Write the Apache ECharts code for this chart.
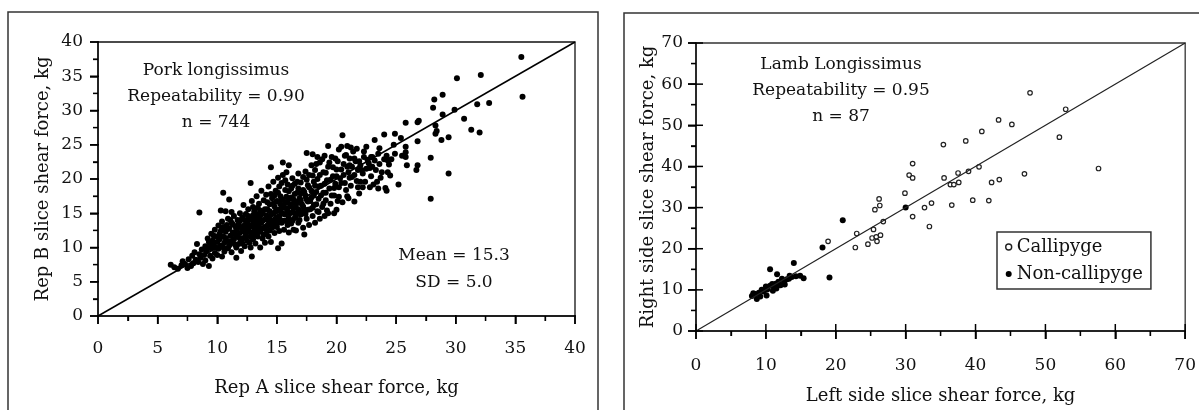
<!DOCTYPE html>
<html>
<head>
<meta charset="utf-8">
<script src="https://cdn.jsdelivr.net/npm/echarts@6/dist/echarts.min.js"></script>
<style>
  html, body { margin: 0; padding: 0; background: #fff; }
  #main { width: 1199px; height: 410px; }
</style>
</head>
<body>
<div id="main"></div>
<script>
  // Pork: Rep A vs Rep B slice shear force (kg)
  let porkPoints = [
    [6.1, 7.5], [6.4, 7.1], [6.7, 6.9], [7.0, 7.4], [7.1, 8.0], [7.3, 7.6], [7.5, 7.0], [7.6, 8.3],
    [7.8, 7.3], [7.9, 8.8], [8.0, 7.7], [8.1, 9.3], [8.2, 8.2], [8.3, 10.5], [8.4, 7.9], [8.5, 15.1],
    [8.5, 9.0], [8.6, 8.5], [8.7, 9.7], [8.8, 7.6],
    [8.9, 8.9], [9.0, 10.2], [9.0, 8.1], [9.1, 9.5], [9.2, 11.3], [9.3, 7.3], [9.3, 10.8], [9.4, 8.8],
    [9.5, 9.9], [9.5, 12.0], [9.6, 8.4], [9.6, 11.0],
    [9.7, 10.4], [9.8, 9.2], [9.8, 12.6], [9.9, 11.6], [10.0, 8.9], [10.0, 10.8], [10.1, 13.2], [10.1, 9.8],
    [10.2, 12.0], [10.2, 11.2], [10.3, 15.4], [10.3, 10.3], [10.4, 8.7], [10.4, 12.7], [10.4, 13.8],
    [10.5, 18.0], [10.5, 11.6], [10.6, 9.4], [10.6, 10.7], [10.7, 15.3], [10.7, 12.3], [10.8, 13.3], [10.8, 11.0],
    [10.9, 9.9], [10.9, 14.2], [11.0, 17.0], [11.0, 12.8], [11.0, 10.3], [11.1, 11.7], [11.2, 15.2], [11.2, 13.6],
    [11.2, 9.3],
    [11.3, 12.2], [11.3, 10.7], [11.4, 14.6], [11.4, 11.2], [11.5, 13.1], [11.6, 8.5], [11.6, 12.6], [11.6, 10.0],
    [11.7, 14.0], [11.7, 11.6], [11.8, 13.5], [11.8, 10.5], [11.9, 12.1], [11.9, 15.0], [12.0, 11.0], [12.0, 13.0],
    [12.0, 9.5],
    [12.1, 14.4], [12.1, 12.4], [12.2, 11.4], [12.2, 16.2], [12.3, 13.3], [12.3, 10.2], [12.4, 12.0], [12.4, 14.9],
    [12.5, 11.0], [12.5, 13.7], [12.6, 12.7], [12.6, 15.6], [12.7, 10.7], [12.7, 14.2], [12.8, 19.4], [12.8, 12.2],
    [12.8, 11.6],
    [12.9, 8.7], [12.9, 13.1], [12.9, 16.8], [13.0, 14.7], [13.0, 11.2], [13.1, 12.5], [13.1, 15.3], [13.2, 13.6],
    [13.2, 10.6], [13.3, 14.2], [13.3, 12.0], [13.3, 17.5], [13.4, 11.6], [13.4, 15.8], [13.5, 13.0], [13.5, 16.4],
    [13.6, 14.6], [13.6, 12.3], [13.6, 10.0],
    [13.7, 18.3], [13.7, 13.6], [13.8, 11.3], [13.8, 15.2], [13.9, 12.8], [13.9, 16.9], [14.0, 14.1], [14.0, 10.7],
    [14.1, 12.0], [14.1, 17.7], [14.2, 15.6], [14.2, 13.2], [14.3, 18.9], [14.3, 11.6], [14.4, 14.5], [14.4, 16.3],
    [14.4, 12.5],
    [14.5, 21.7], [14.5, 10.8], [14.6, 13.8], [14.6, 17.2], [14.7, 15.0], [14.7, 19.6], [14.8, 12.1], [14.8, 16.0],
    [14.9, 14.2], [14.9, 18.3], [15.0, 13.0], [15.0, 15.5], [15.1, 9.9], [15.1, 16.7], [15.1, 20.2], [15.2, 14.6],
    [15.2, 12.4], [15.2, 18.9],
    [15.3, 17.5], [15.4, 10.6], [15.4, 13.6], [15.5, 22.4], [15.5, 20.6], [15.5, 15.8], [15.6, 14.9], [15.6, 12.6],
    [15.7, 16.6], [15.7, 18.4], [15.8, 13.9], [15.8, 21.0], [15.9, 15.3], [15.9, 19.2], [16.0, 14.3], [16.0, 17.1],
    [16.0, 12.2], [16.0, 22.0],
    [16.1, 16.0], [16.2, 13.5], [16.2, 18.6], [16.3, 15.1], [16.3, 20.1], [16.4, 12.6], [16.4, 17.0], [16.5, 14.3],
    [16.5, 19.3], [16.6, 16.2], [16.6, 12.5], [16.7, 18.0], [16.7, 15.0], [16.8, 20.8], [16.8, 13.6],
    [16.9, 17.2], [17.0, 14.8], [17.0, 19.5], [17.1, 16.3], [17.2, 12.9], [17.2, 18.4], [17.3, 11.9], [17.3, 15.5],
    [17.4, 21.1], [17.4, 17.6], [17.5, 23.8], [17.5, 14.2], [17.5, 19.9], [17.6, 16.7],
    [17.7, 13.3], [17.7, 18.8], [17.8, 15.6], [17.9, 22.0], [17.9, 17.3], [18.0, 23.6], [18.0, 14.6], [18.1, 19.6],
    [18.1, 16.2], [18.2, 13.6], [18.2, 21.3], [18.3, 18.1], [18.4, 15.3], [18.4, 23.2], [18.4, 20.0],
    [18.5, 17.1], [18.6, 14.2], [18.6, 22.4], [18.7, 19.0], [18.8, 15.9], [18.9, 21.0], [18.9, 18.0], [19.0, 14.6],
    [19.0, 23.4], [19.1, 16.9], [19.2, 19.8], [19.3, 24.8], [19.3, 15.0], [19.3, 21.8],
    [19.4, 18.6], [19.5, 16.4], [19.6, 23.2], [19.7, 20.4], [19.8, 15.0], [19.8, 17.6], [19.9, 23.0], [19.9, 19.3],
    [20.0, 15.5], [20.0, 21.4], [20.1, 16.8], [20.2, 24.3], [20.2, 18.8],
    [20.3, 20.1], [20.4, 24.7], [20.5, 26.4], [20.5, 16.6], [20.6, 22.2], [20.7, 19.4], [20.8, 23.5], [20.9, 24.8],
    [20.9, 17.5], [21.0, 21.0], [21.0, 17.2], [21.1, 20.2], [21.1, 23.0],
    [21.2, 19.0], [21.3, 21.8], [21.4, 24.0], [21.5, 16.7], [21.5, 20.6], [21.6, 22.6], [21.7, 24.4], [21.8, 18.8],
    [21.8, 21.3], [21.9, 17.9], [22.0, 22.0], [22.0, 19.6],
    [22.2, 18.8], [22.2, 20.8], [22.3, 23.2], [22.5, 24.7], [22.5, 21.5], [22.7, 22.3], [22.8, 18.8], [22.9, 23.2],
    [22.9, 20.4], [23.0, 21.8],
    [23.2, 25.7], [23.2, 22.7], [23.4, 19.6], [23.5, 18.6], [23.5, 23.7], [23.6, 22.2], [23.8, 21.0], [24.0, 26.5],
    [24.0, 22.9],
    [24.1, 18.7], [24.2, 18.3], [24.3, 22.7], [24.3, 21.0], [24.4, 22.1], [24.5, 20.5], [24.8, 25.0], [24.9, 26.6],
    [24.9, 23.7],
    [25.2, 19.2], [25.4, 26.0], [25.5, 23.4], [25.8, 28.2], [25.8, 24.7], [25.8, 23.9], [25.8, 23.2], [25.9, 22.0],
    [26.7, 21.3], [26.8, 22.0], [26.8, 25.5], [26.8, 28.3], [26.9, 28.5],
    [27.9, 23.1], [27.9, 17.1], [28.1, 30.4], [28.2, 31.6], [28.3, 27.8], [28.4, 27.0], [28.3, 26.6], [28.8, 25.7],
    [28.9, 32.3], [28.9, 29.4], [29.4, 26.1], [29.4, 20.8], [29.9, 30.1], [30.1, 34.7], [30.7, 28.8], [31.3, 27.2],
    [31.8, 30.9], [32.0, 26.8], [32.1, 35.2], [32.8, 31.1], [35.5, 37.8], [35.6, 32.0]
  ]
  // the dense middle of the pork cloud
  let porkCore = [
    [9.2, 9.9], [9.4, 10.6], [9.7, 11.7], [9.9, 10.0], [10.1, 11.5], [10.3, 12.4], [10.5, 10.0], [10.5, 13.0],
    [10.7, 11.4], [10.9, 12.7], [11.1, 10.9], [11.1, 14.0], [11.3, 13.4], [11.5, 11.9], [11.5, 10.4], [11.7, 12.9],
    [11.9, 11.3], [11.9, 13.9], [12.1, 10.6], [12.2, 12.9], [12.3, 14.0], [12.4, 11.6], [12.5, 12.4], [12.6, 14.6],
    [12.7, 13.2], [12.8, 10.0], [12.9, 12.1], [12.9, 14.0], [13.0, 13.4], [13.0, 15.9], [13.1, 11.9], [13.2, 12.9],
    [13.3, 14.9], [13.4, 13.4], [13.4, 12.4], [13.5, 14.1], [13.6, 15.4], [13.7, 12.8], [13.7, 14.9], [13.8, 13.9],
    [13.9, 11.9], [14.0, 15.6], [14.0, 13.0], [14.1, 14.7], [14.2, 16.6], [14.2, 12.4], [14.3, 13.9], [14.4, 15.3],
    [14.5, 13.3], [14.5, 17.8], [14.6, 14.9], [14.6, 12.9], [14.7, 16.4], [14.8, 14.0], [14.8, 17.6], [14.9, 15.3],
    [14.9, 13.4], [15.0, 16.8], [15.0, 14.4], [15.1, 18.0], [15.1, 13.6], [15.2, 15.5], [15.3, 16.3], [15.3, 14.0],
    [15.4, 19.4], [15.4, 15.0], [15.5, 17.0], [15.6, 13.9], [15.6, 16.0], [15.7, 19.8], [15.7, 14.8], [15.8, 17.4],
    [15.8, 15.7], [15.9, 13.3], [15.9, 16.6], [16.0, 18.2], [16.1, 15.0], [16.1, 14.0], [16.2, 17.3], [16.2, 16.3],
    [16.3, 13.9], [16.3, 19.0], [16.4, 15.7], [16.5, 17.8], [16.5, 16.7], [16.6, 14.6], [16.7, 19.6], [16.7, 16.6],
    [16.8, 15.6], [16.8, 18.6], [16.9, 14.0], [17.0, 16.9], [17.0, 17.9], [17.1, 15.2], [17.2, 20.3], [17.2, 16.0],
    [17.3, 18.1], [17.4, 14.9], [17.5, 17.0], [17.6, 19.1], [17.6, 15.5], [17.7, 20.6], [17.8, 16.8], [17.9, 18.3],
    [18.0, 15.8], [18.0, 20.5], [18.1, 17.6], [18.2, 19.0], [18.3, 16.3], [18.3, 22.2], [18.5, 18.9], [18.5, 15.2],
    [18.6, 20.6], [18.7, 17.6], [18.8, 22.9], [18.9, 16.4], [19.0, 19.3], [19.1, 20.9], [19.1, 18.0], [19.2, 15.4],
    [19.4, 22.4], [19.5, 19.9], [19.6, 17.6], [19.7, 21.7], [19.8, 18.7], [20.0, 20.4], [20.1, 22.6], [20.2, 17.4],
    [20.4, 19.4], [20.4, 21.4], [20.6, 20.6], [20.7, 23.4], [20.8, 18.4], [20.9, 21.8], [21.1, 22.0], [21.2, 24.6],
    [21.3, 20.3], [21.5, 23.0], [21.7, 19.7], [21.9, 22.6], [22.1, 21.3], [22.3, 24.0], [22.4, 19.6], [22.6, 22.8],
    [22.8, 21.6], [23.0, 23.2], [23.1, 19.2], [23.3, 21.3], [23.6, 24.5], [23.7, 20.2], [24.2, 23.4], [24.6, 22.9]
  ]
  let porkLine = [[0, 0], [40, 40]]

  // Lamb: left vs right side slice shear force (kg)
  let callipyge = [
    [47.8, 57.9], [52.9, 53.9], [43.3, 51.3], [45.2, 50.2], [40.9, 48.5], [52.0, 47.1], [35.4, 45.3], [38.6, 46.2],
    [40.5, 39.9], [39.0, 38.8], [37.5, 38.4], [31.0, 40.7], [30.5, 37.9], [31.0, 37.2], [35.5, 37.2], [36.4, 35.6],
    [36.9, 35.6], [37.6, 36.1], [42.3, 36.1], [43.4, 36.8], [47.0, 38.2], [57.6, 39.5], [29.9, 33.5], [39.6, 31.8],
    [41.9, 31.7], [36.6, 30.6], [33.7, 31.1], [32.7, 30.0], [31.0, 27.8], [33.4, 25.4], [26.2, 32.1], [26.3, 30.5],
    [25.6, 29.5], [26.8, 26.6], [25.4, 24.7], [25.2, 22.6], [25.8, 22.9], [25.9, 21.8], [26.4, 23.3], [24.6, 21.1],
    [23.0, 23.7], [22.8, 20.3], [18.9, 21.8]
  ]
  let nonCallipyge = [
    [21.0, 26.9], [30.0, 30.0], [18.1, 20.3], [19.1, 13.0], [14.0, 16.5], [10.6, 15.0], [11.6, 13.8], [15.4, 12.8],
    [14.9, 13.4], [14.3, 13.3], [13.4, 13.4], [13.0, 12.6], [12.6, 11.8], [12.7, 11.3], [11.8, 12.0], [11.4, 11.5],
    [11.2, 10.6], [11.0, 9.8], [10.6, 11.0], [10.2, 10.1], [10.0, 10.8], [10.1, 8.6], [9.4, 10.0], [9.0, 9.3],
    [8.5, 9.0], [8.2, 9.2], [8.7, 7.8], [8.0, 8.5], [11.5, 10.3], [12.3, 12.7], [13.3, 12.7], [13.7, 13.1],
    [9.7, 9.6], [10.9, 11.4], [12.1, 11.1], [9.2, 8.4]
  ]
  let lambLine = [[0, 0], [70, 70]]

  // tick marks (same on both axes of a panel)
  let porkMajor = [0, 5, 10, 15, 20, 25, 30, 35, 40]
  let porkMinor = [2.5, 7.5, 12.5, 17.5, 22.5, 27.5, 32.5, 37.5]
  let lambMajor = [0, 10, 20, 30, 40, 50, 60, 70]
  let lambMinor = [5, 15, 25, 35, 45, 55, 65]

  let font = '"DejaVu Serif", "Liberation Serif", serif'
  let ink = '#111'

  function axis(grid, ticks, opts) {
    return Object.assign({
      type: 'value',
      gridIndex: grid,
      min: ticks[0],
      max: ticks[ticks.length - 1],
      interval: ticks[1] - ticks[0],
      splitLine: { show: false },
      axisLine: { show: true, onZero: false, lineStyle: { color: ink, width: 1.5 } },
      axisTick: { show: true, inside: false, length: 8, lineStyle: { color: '#000', width: 1.5 } },
      minorTick: { show: true, splitNumber: 2, length: 5, lineStyle: { color: '#000', width: 1.3 } },
      axisLabel: { color: ink, fontFamily: font, fontSize: 17 },
      nameLocation: 'middle',
      nameTextStyle: { color: ink, fontFamily: font, fontSize: 18 }
    }, opts)
  }

  let myChart = echarts.init(document.getElementById('main'))
  let option = {
    animation: false,
    grid: [
      { left: 98, top: 42, width: 477, height: 274, show: true, borderColor: ink, borderWidth: 1.3 },
      { left: 696, top: 43, width: 498, height: 289, show: true, borderColor: '#333', borderWidth: 1.3 }
    ],
    xAxis: [
      axis(0, porkMajor, { name: 'Rep A slice shear force, kg', nameGap: 63, axisLabel: { color: ink, fontFamily: font, fontSize: 17, margin: 24 } }),
      axis(1, lambMajor, { name: 'Left side slice shear force, kg', nameGap: 56, axisLabel: { color: ink, fontFamily: font, fontSize: 17, margin: 26 } })
    ],
    yAxis: [
      axis(0, porkMajor, { name: 'Rep B slice shear force, kg', nameGap: 46, axisLabel: { color: ink, fontFamily: font, fontSize: 17, margin: 15 } }),
      axis(1, lambMajor, { name: 'Right side slice shear force, kg', nameGap: 39, axisLabel: { color: ink, fontFamily: font, fontSize: 17, margin: 13 } })
    ],
    legend: {
      left: 997,
      top: 232,
      orient: 'vertical',
      padding: [6, 8, 6, 8],
      itemGap: 9,
      itemWidth: 6,
      itemHeight: 6,
      borderColor: '#333',
      borderWidth: 1.5,
      textStyle: { color: ink, fontFamily: font, fontSize: 18 },
      data: [
        { name: 'Callipyge', icon: 'circle', itemStyle: { color: '#fff', borderColor: '#222', borderWidth: 1.4 } },
        { name: 'Non-callipyge', icon: 'circle', itemStyle: { color: '#000' } }
      ]
    },
    graphic: [
      // panel frames
      { type: 'rect', z: -10, silent: true, shape: { x: 8, y: 12, width: 590, height: 420 }, style: { fill: 'transparent', stroke: '#333', lineWidth: 1.5 } },
      { type: 'rect', z: -10, silent: true, shape: { x: 624, y: 13, width: 600, height: 420 }, style: { fill: 'transparent', stroke: '#333', lineWidth: 1.5 } },
      {
        type: 'text', x: 216, y: 58, z: 10,
        style: { text: 'Pork longissimus\nRepeatability = 0.90\nn = 744', align: 'center', verticalAlign: 'top', lineHeight: 26, fill: ink, font: '17px ' + font }
      },
      {
        type: 'text', x: 454, y: 242, z: 10,
        style: { text: 'Mean = 15.3\nSD = 5.0', align: 'center', verticalAlign: 'top', lineHeight: 27, fill: ink, font: '17px ' + font }
      },
      {
        type: 'text', x: 841, y: 52, z: 10,
        style: { text: 'Lamb Longissimus\nRepeatability = 0.95\nn = 87', align: 'center', verticalAlign: 'top', lineHeight: 26, fill: ink, font: '17px ' + font }
      }
    ],
    series: [
      {
        type: 'line', xAxisIndex: 0, yAxisIndex: 0, data: porkLine,
        symbol: 'none', silent: true, lineStyle: { color: '#000', width: 1.5 }
      },
      {
        type: 'scatter', name: 'Pork', xAxisIndex: 0, yAxisIndex: 0, data: porkPoints.concat(porkCore),
        symbolSize: 6, itemStyle: { color: '#000', opacity: 1 }
      },
      {
        type: 'line', xAxisIndex: 1, yAxisIndex: 1, data: lambLine,
        symbol: 'none', silent: true, lineStyle: { color: '#222', width: 1.2 }
      },
      {
        type: 'scatter', name: 'Callipyge', xAxisIndex: 1, yAxisIndex: 1, data: callipyge,
        symbolSize: 4.5, itemStyle: { color: '#fff', borderColor: '#222', borderWidth: 1.2, opacity: 1 }
      },
      {
        type: 'scatter', name: 'Non-callipyge', xAxisIndex: 1, yAxisIndex: 1, data: nonCallipyge,
        symbolSize: 6, itemStyle: { color: '#000', opacity: 1 }
      }
    ]
  }
  myChart.setOption(option)

  // tick marks placed through the chart's own scales, drawn as graphic lines
  function tickMark(x1, y1, x2, y2, w) {
    return { type: 'line', silent: true, z: 20, shape: { x1: x1, y1: y1, x2: x2, y2: y2 }, style: { stroke: '#000', lineWidth: w } }
  }
  function ticksFor(gridIndex, major, minor, inner) {
    let lo = major[0]
    let out = []
    major.forEach(v => {
      let p = myChart.convertToPixel({ gridIndex: gridIndex }, [v, lo])
      let q = myChart.convertToPixel({ gridIndex: gridIndex }, [lo, v])
      if (p) out.push(tickMark(p[0], p[1] - inner, p[0], p[1] + 8, 1.5))
      if (q) out.push(tickMark(q[0] - 8, q[1], q[0] + inner, q[1], 1.5))
    })
    minor.forEach(v => {
      let p = myChart.convertToPixel({ gridIndex: gridIndex }, [v, lo])
      let q = myChart.convertToPixel({ gridIndex: gridIndex }, [lo, v])
      if (p) out.push(tickMark(p[0], p[1], p[0], p[1] + 5, 1.3))
      if (q) out.push(tickMark(q[0] - 5, q[1], q[0], q[1], 1.3))
    })
    return out
  }
  try {
    let tickMarks = ticksFor(0, porkMajor, porkMinor, 1).concat(ticksFor(1, lambMajor, lambMinor, 7))
    myChart.setOption({ graphic: option.graphic.concat(tickMarks) })
  } catch (e) {
    console.error(e)
  }
</script>
</body>
</html>
